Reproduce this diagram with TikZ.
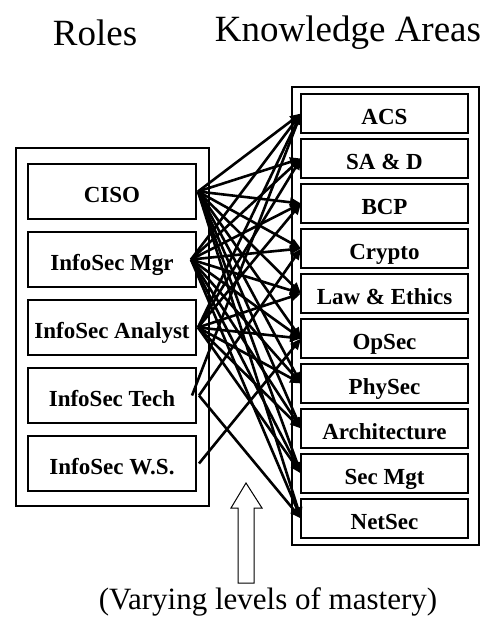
\documentclass[tikz,border=0pt]{standalone}
\usepackage{fontspec}
\setmainfont{Liberation Serif}
\usetikzlibrary{positioning,arrows.meta}

\begin{document}
\begin{tikzpicture}[x=1pt,y=-1pt,
  role/.style={draw,line width=1.1pt,minimum width=168pt,minimum height=55pt,
    inner sep=0pt,outer sep=0pt,text height=21pt,text depth=0pt,
    font=\fontsize{23}{25}\selectfont\bfseries},
  area/.style={draw,line width=1.1pt,minimum width=167pt,minimum height=39pt,
    inner sep=0pt,outer sep=0pt,text height=21pt,text depth=0pt,
    font=\fontsize{23}{25}\selectfont\bfseries},
  link/.style={line width=2.6pt,-{Triangle[length=11pt,width=9pt]}},
  title/.style={font=\fontsize{37}{40}\selectfont}]
  \useasboundingbox (0,0) rectangle (489,619);

  % Headings
  \node[title] (hroles) at (95,33) {Roles};
  \node[title] (hareas) at (348,33) {Knowledge Areas};

  % Roles
  \draw[line width=1.6pt] (16,148) rectangle (209,506);
  \node[role] (ciso) at (112,191.5) {CISO};
  \node[role, below=13pt of ciso] (mgr) {InfoSec Mgr};
  \node[role, below=13pt of mgr] (analyst) {InfoSec Analyst};
  \node[role, below=13pt of analyst] (tech) {InfoSec Tech};
  \node[role, below=13pt of tech] (ws) {InfoSec W.S.};

  % Knowledge areas
  \draw[line width=1.6pt] (292,87) rectangle (479,545);
  \node[area] (acs) at (384.5,113.5) {ACS};
  \node[area, below=6pt of acs] (sad) {SA \& D};
  \node[area, below=6pt of sad] (bcp) {BCP};
  \node[area, below=6pt of bcp] (crypto) {Crypto};
  \node[area, below=6pt of crypto] (law) {Law \& Ethics};
  \node[area, below=6pt of law] (opsec) {OpSec};
  \node[area, below=6pt of opsec] (physec) {PhySec};
  \node[area, below=6pt of physec] (arch) {Architecture};
  \node[area, below=6pt of arch] (secmgt) {Sec Mgt};
  \node[area, below=6pt of secmgt] (netsec) {NetSec};

  % Line origins
  \coordinate (ciso-o) at ([xshift=2pt]ciso.east);
  \coordinate (mgr-o) at ([xshift=-5pt]mgr.east);
  \coordinate (analyst-o) at ([xshift=2pt]analyst.east);
  \coordinate (tech-o) at ([xshift=-4pt]tech.east);
  \coordinate (tech-p) at ([xshift=3pt]tech.east);
  \coordinate (ws-o) at ([xshift=3pt]ws.east);

  % Links
  \foreach \t in {acs,sad,bcp,crypto,law,opsec,physec,arch,secmgt,netsec}
    \draw[link] (ciso-o) -- (\t.west);
  \foreach \t in {acs,sad,bcp,crypto,law,opsec,physec,arch,secmgt,netsec}
    \draw[link] (mgr-o) -- (\t.west);
  \foreach \t in {acs,sad,bcp,law,opsec,physec,arch,secmgt}
    \draw[link] (analyst-o) -- (\t.west);
  \foreach \s/\t in {tech-o/acs,tech-p/crypto,tech-p/netsec,ws-o/opsec}
    \draw[link] (\s) -- (\t.west);

  % Hollow arrow
  \draw[line width=1pt] (238,583) -- (238,508) -- (231,508) -- (246,483)
    -- (262,508) -- (254,508) -- (254,583) -- cycle;
  \node[title, font=\fontsize{31}{34}\selectfont] (mastery) at (268,602) {(Varying levels of mastery)};
\end{tikzpicture}
\end{document}
